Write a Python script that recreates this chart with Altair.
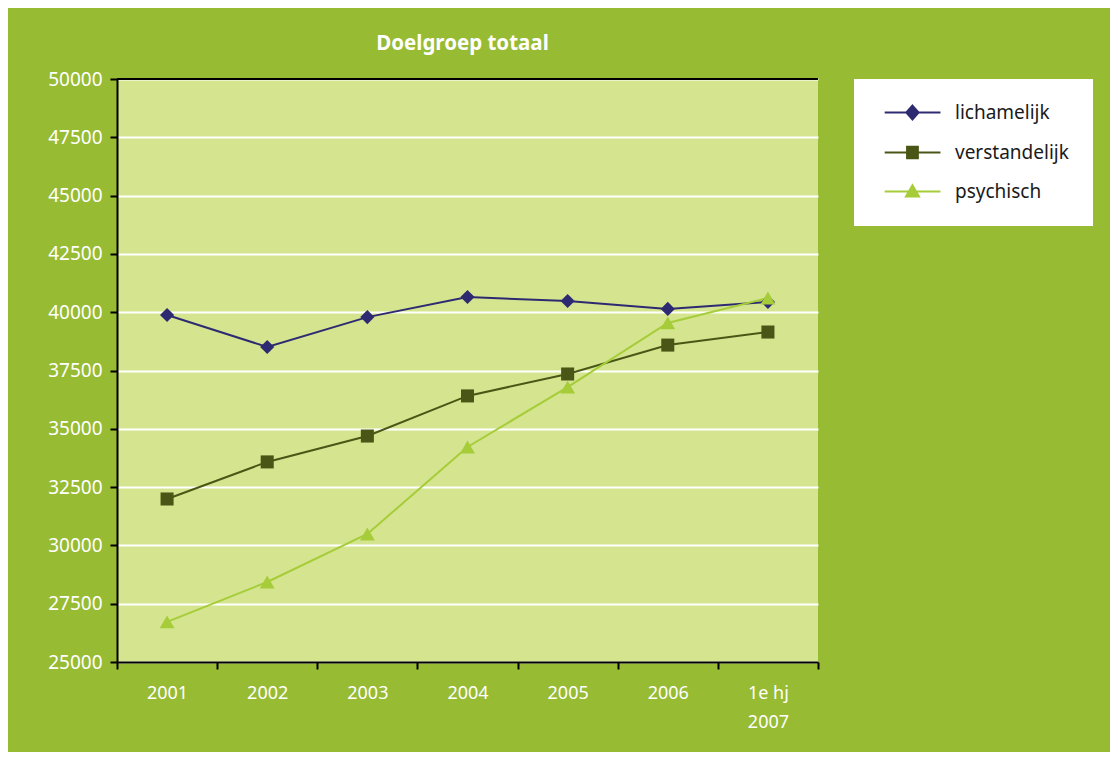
import altair as alt
import pandas as pd

years = ["2001", "2002", "2003", "2004", "2005", "2006", "1e hj 2007"]
series_names = ["lichamelijk", "verstandelijk", "psychisch"]
lichamelijk = [39880, 38510, 39790, 40650, 40480, 40140, 40440]
verstandelijk = [31990, 33580, 34690, 36410, 37350, 38590, 39150]
psychisch = [26720, 28430, 30490, 34220, 36790, 39540, 40610]
colors = ["#2e2a72", "#4a5616", "#a6cd39"]
y_ticks = list(range(25000, 50001, 2500))
y_top = 50000

rows = []
for name, vals in zip(series_names, [lichamelijk, verstandelijk, psychisch]):
    for yr, v in zip(years, vals):
        rows.append({"year": yr, "series": name, "value": v})
df = pd.DataFrame(rows)

FONT = "Noto Sans"

x_enc = alt.X(
    "year:N", sort=years, bandPosition=0.5,
    scale=alt.Scale(type="band", paddingInner=0, paddingOuter=0),
    axis=alt.Axis(
        title=None, tickBand="extent", labelAngle=0, domainColor="black",
        domainWidth=2, tickColor="black", tickWidth=2, tickSize=7,
        labelColor="white", labelFontSize=18, labelFont=FONT, labelPadding=15,
        labelLineHeight=29, grid=False,
        labelExpr="datum.value == '1e hj 2007' ? ['1e hj', '2007'] : datum.label",
    ),
)
y_enc = alt.Y(
    "value:Q",
    scale=alt.Scale(domain=[25000, 50000], nice=False, zero=False),
    axis=alt.Axis(
        title=None, values=y_ticks, format="d", domainColor="black",
        domainWidth=2, tickColor="black", tickWidth=2, tickSize=7,
        labelColor="white", labelFontSize=19, labelFont=FONT, labelPadding=8,
        grid=True, gridColor="white", gridWidth=2,
    ),
)


def make_legend():
    return alt.Legend(
        title=None, orient="none", legendX=737, legendY=0,
        fillColor="white", padding=24, symbolSize=144,
        symbolOpacity=1, symbolStrokeWidth=2,
        labelFont=FONT, labelFontSize=19, labelColor="#1a1a1a",
        labelOffset=58, rowPadding=18, labelLimit=300,
    )


base = alt.Chart(df)

top_rule = alt.Chart(pd.DataFrame({"value": [y_top]})).mark_rule(
    color="black", strokeWidth=2
).encode(y=alt.Y("value:Q"))

lines = base.mark_line(strokeWidth=2).encode(
    x=x_enc, y=y_enc,
    color=alt.Color(
        "series:N", scale=alt.Scale(domain=series_names, range=colors),
        legend=make_legend(),
    ),
)

shapes = ["diamond", "square", "triangle-up"]
sizes = [200, 170, 220]
point_layers = []
for name, shp, sz in zip(series_names, shapes, sizes):
    point_layers.append(
        base.transform_filter(alt.datum.series == name)
        .mark_point(shape=shp, filled=True, size=sz, opacity=1)
        .encode(x=x_enc, y=y_enc, color=alt.Color("series:N", legend=None))
    )

legend_paths = [
    "M-0.47,0H8.83M4.16,-1.15L5.18,0L4.16,1.15L3.14,0Z",
    "M-0.47,0H8.83M3.26,-0.95H5.06V0.95H3.26Z",
    "M-0.47,0H8.83M4.16,-1.05L5.25,0.85H3.07Z",
]

legend_layer = base.transform_filter("false").mark_point(filled=True).encode(
    x=x_enc, y=y_enc,
    shape=alt.Shape(
        "series:N",
        scale=alt.Scale(domain=series_names, range=legend_paths),
        legend=make_legend(),
    ),
)

chart = alt.layer(lines, top_rule, *point_layers, legend_layer).properties(
    width=701, height=583,
    title=alt.TitleParams(
        "Doelgroep totaal", color="white", fontSize=20.5, fontWeight="bold",
        font=FONT, anchor="middle", offset=16, dx=-5,
    ),
    autosize=alt.AutoSizeParams(type="none"),
    padding={"left": 109, "top": 71, "right": 292, "bottom": 90},
    background="#97bb33",
).configure_view(fill="#d4e48f", stroke=None)

chart.save("out.html", embed_options={"renderer": "svg", "actions": False})
